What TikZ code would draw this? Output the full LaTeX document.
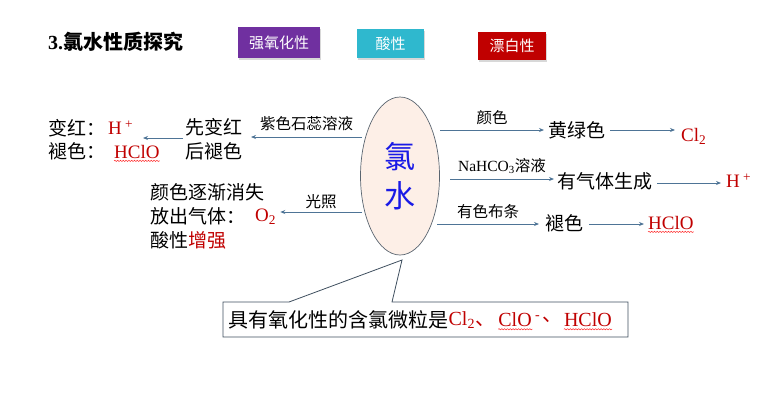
\documentclass[tikz,border=0pt]{standalone}
\usepackage{fontspec}
\setmainfont{Liberation Serif}
\newfontfamily\cjk{Noto Sans CJK SC}
\usetikzlibrary{arrows.meta,decorations.pathmorphing,shadows,shapes.geometric}
\definecolor{chemred}{HTML}{C00000}
\definecolor{arrowc}{HTML}{4E7496}
\definecolor{ellfill}{HTML}{FDEFE7}
\definecolor{ellline}{HTML}{5A6570}
\definecolor{waterblue}{HTML}{1A1AE6}
\definecolor{btnpurple}{HTML}{7030A0}
\definecolor{btncyan}{HTML}{2FB8CE}
\definecolor{btnred}{HTML}{C00000}
\definecolor{callline}{HTML}{3F4F5F}
\begin{document}
\begin{tikzpicture}[x=1pt,y=-1pt,
  cj/.style={font=\cjk\fontsize{19}{19}\selectfont, inner sep=0pt, anchor=west},
  lbl/.style={font=\cjk\fontsize{15.5}{16}\selectfont, inner sep=0pt},
  chem/.style={text=chemred, inner sep=0pt, anchor=west, font=\fontsize{19}{19}\selectfont},
  arr/.style={draw=arrowc, line width=0.8pt, -{Stealth[length=5pt,width=4pt]}},
  btn/.style={text=white, font=\cjk\fontsize{15}{15}\selectfont, inner sep=0pt,
    drop shadow={fill=gray!60, opacity=0.5, shadow xshift=1.2pt, shadow yshift=-1.5pt}},
  wavy/.style={draw=red!85, line width=0.5pt, decorate,
    decoration={snake, amplitude=0.6pt, segment length=2.8pt}}]
\useasboundingbox (0,0) rectangle (762,408);

% title and buttons
\node[anchor=west, inner sep=0pt, font=\bfseries\fontsize{20}{20}\selectfont] (title) at (48,42)
  {3.{\cjk\bfseries 氯水性质探究}};
\node[btn, fill=btnpurple, minimum width=82, minimum height=31] (b1) at (279,42.5) {强氧化性};
\node[btn, fill=btncyan, minimum width=67, minimum height=29] (b2) at (390.5,43.5) {酸性};
\node[btn, fill=btnred, minimum width=68, minimum height=28] (b3) at (512,46) {漂白性};

% central ellipse
\node[ellipse, draw=ellline, line width=0.7pt, fill=ellfill, minimum width=79, minimum height=158,
  inner sep=0pt, align=center, text=waterblue, font=\cjk\fontsize{31}{39}\selectfont] (ell) at (400,176) {氯\\水};

% left top
\node[cj] (xb) at (185,127) {先变红};
\node[cj] (hs) at (185,151) {后褪色};
\node[cj] (bh) at (48,128) {变红：};
\node[chem] (hp) at (108,128) {H\,\textsuperscript{+}};
\node[cj] (ts) at (48,151) {褪色：};
\node[chem] (hclo1) at (114,152) {HClO};
\draw[wavy] ([yshift=-2pt]hclo1.south west) -- ([yshift=-2pt]hclo1.south east);
\coordinate (e1) at (362,137);
\draw[arr] (e1) -- (e1 -| 251,0) node[lbl, midway, above=6pt] {紫色石蕊溶液};
\coordinate (e2) at (183,138);
\draw[arr] (e2) -- (143,138);

% left bottom
\node[cj] (ys) at (150,192) {颜色逐渐消失};
\node[cj] (fc) at (150,216) {放出气体：};
\node[chem] (o2) at (255,217) {O\textsubscript{2}};
\node[cj] (sx) at (150,240) {酸性{\color{chemred}增强}};
\coordinate (e3) at (362,212);
\draw[arr] (e3) -- ([xshift=4pt]o2.east |- e3) node[lbl, midway, above=3pt] {光照};

% right rows
\node[cj] (hlc) at (548,130) {黄绿色};
\node[chem] (cl2) at (681,136) {Cl\textsubscript{2}};
\coordinate (e4) at (440,130);
\draw[arr] (e4) -- ([xshift=-4pt]e4 -| hlc.west) node[lbl, midway, above=5pt] {颜色};
\draw[arr] ([xshift=5pt]hlc.east) -- ([xshift=-6pt]hlc.east -| cl2.west);

\node[cj] (yq) at (557,181) {有气体生成};
\node[chem] (hp2) at (726,181) {H\,\textsuperscript{+}};
\coordinate (e5) at (450,179);
\draw[arr] (e5) -- ([xshift=-3pt]e5 -| yq.west)
  node[midway, above=5pt, inner sep=0pt, font=\fontsize{15.5}{16}\selectfont] {NaHCO\textsubscript{3}{\cjk 溶液}};
\draw[arr] ([xshift=5pt]yq.east |- 0,183) -- ([xshift=-5pt]hp2.west |- 0,183);

\node[cj] (ts2) at (545,223) {褪色};
\node[chem] (hclo2) at (648,223) {HClO};
\draw[wavy] ([yshift=-2pt]hclo2.south west) -- ([yshift=-2pt]hclo2.south east);
\coordinate (e6) at (437,224);
\draw[arr] (e6) -- ([xshift=-6pt]e6 -| ts2.west) node[lbl, midway, above=5pt] {有色布条};
\draw[arr] ([xshift=6pt]ts2.east |- 0,224) -- ([xshift=-4pt]hclo2.west |- 0,224);

% callout
\draw[callline, line width=0.8pt, fill=white]
  (223,302) -- (289,302) -- (402,260) -- (392,302) -- (628,302) -- (628,337) -- (223,337) -- cycle;
\node[cj, font=\cjk\fontsize{20}{20}\selectfont] (ct) at (228,320) {具有氧化性的含氯微粒是};
\node[chem, font=\fontsize{20}{20}\selectfont] (c1) at (ct.east) {Cl\textsubscript{2}{\cjk 、}};
\node[chem, font=\fontsize{20}{20}\selectfont] (c2) at ([xshift=3pt]c1.east) {ClO\,\textsuperscript{-}};
\node[chem, font=\fontsize{20}{20}\selectfont] (c3) at ([xshift=2pt]c2.east) {{\cjk 、}};
\node[chem, font=\fontsize{20}{20}\selectfont] (c4) at ([xshift=1pt]c3.east) {HClO};
\draw[wavy] ([yshift=-2pt]c2.south west |- c4.south) -- ([yshift=-2pt,xshift=-8pt]c2.south east |- c4.south);
\draw[wavy] ([yshift=-2pt]c4.south west) -- ([yshift=-2pt]c4.south east);
\end{tikzpicture}
\end{document}
